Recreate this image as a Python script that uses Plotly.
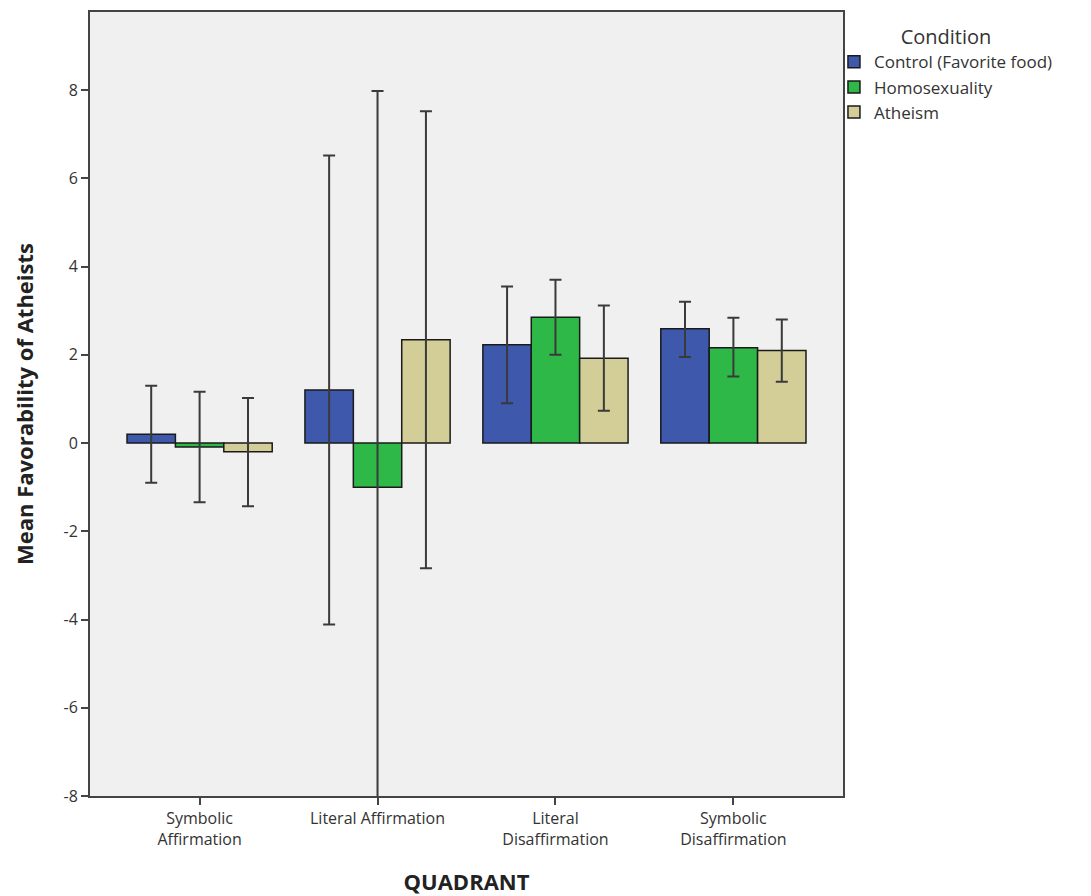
import plotly.graph_objects as go

quadrants = ["Symbolic<br>Affirmation", "Literal Affirmation",
             "Literal<br>Disaffirmation", "Symbolic<br>Disaffirmation"]
conditions = ["Control (Favorite food)", "Homosexuality", "Atheism"]

# group means and 95% CI bounds per condition
control_mean = [0.20, 1.20, 2.23, 2.59]
control_upper = [1.30, 6.52, 3.55, 3.20]
control_lower = [-0.90, -4.11, 0.90, 1.95]

homo_mean = [-0.09, -1.00, 2.85, 2.16]
homo_upper = [1.16, 7.98, 3.70, 2.84]
homo_lower = [-1.34, -9.98, 2.00, 1.51]

atheism_mean = [-0.20, 2.34, 1.92, 2.10]
atheism_upper = [1.02, 7.52, 3.12, 2.80]
atheism_lower = [-1.43, -2.84, 0.73, 1.39]

colors = ["#3e58ac", "#2eb848", "#d3ce97"]

series = [
    (control_mean, control_upper, control_lower),
    (homo_mean, homo_upper, homo_lower),
    (atheism_mean, atheism_upper, atheism_lower),
]

fig = go.Figure()
for name, color, (m, up, lo) in zip(conditions, colors, series):
    fig.add_trace(go.Bar(
        x=quadrants, y=m, name=name,
        marker=dict(color=color, line=dict(color="#1a1a1a", width=1.5)),
        error_y=dict(type="data", symmetric=False,
                     array=[u - v for u, v in zip(up, m)],
                     arrayminus=[v - l for v, l in zip(m, lo)],
                     color="#3a3a3a", thickness=2, width=6),
    ))

fig.update_layout(
    width=1091, height=896,
    margin=dict(l=90, r=248, t=12, b=100),
    paper_bgcolor="white", plot_bgcolor="#f0f0f0",
    barmode="group", bargap=0.184, bargroupgap=0,
    font=dict(family="Open Sans, DejaVu Sans, sans-serif", color="#333333", size=16),
    xaxis=dict(
        range=[-0.616, 3.616], automargin=False,
        showline=True, linecolor="#444444", linewidth=2, mirror=True,
        ticks="outside", ticklen=7, tickwidth=1.5, tickcolor="#444444",
        tickfont=dict(size=16, color="#333333"),
        title=dict(text="<b>QUADRANT</b>", font=dict(size=22, color="#222222"), standoff=26),
        showgrid=False,
    ),
    yaxis=dict(
        range=[-8, 9.77], automargin=False,
        tickvals=[-8, -6, -4, -2, 0, 2, 4, 6, 8],
        ticktext=["-8", "-6", "-4", "-2", "0", "2", "4", "6", "8"],
        showline=True, linecolor="#444444", linewidth=2, mirror=True,
        ticks="outside", ticklen=7, tickwidth=1.5, tickcolor="#444444",
        tickfont=dict(size=16, color="#333333"),
        title=dict(text="<b>Mean Favorability of Atheists</b>", font=dict(size=22, color="#222222"), standoff=24),
        showgrid=False, zeroline=False,
    ),
    legend=dict(
        x=0.988, xanchor="left", y=0.992, yanchor="top",
        title=dict(text="Condition", side="top center", font=dict(size=20, color="#333333")),
        font=dict(size=17, color="#333333"),
        bgcolor="rgba(0,0,0,0)", tracegroupgap=0, itemwidth=30,
    ),
)

fig.write_html("out.html")
